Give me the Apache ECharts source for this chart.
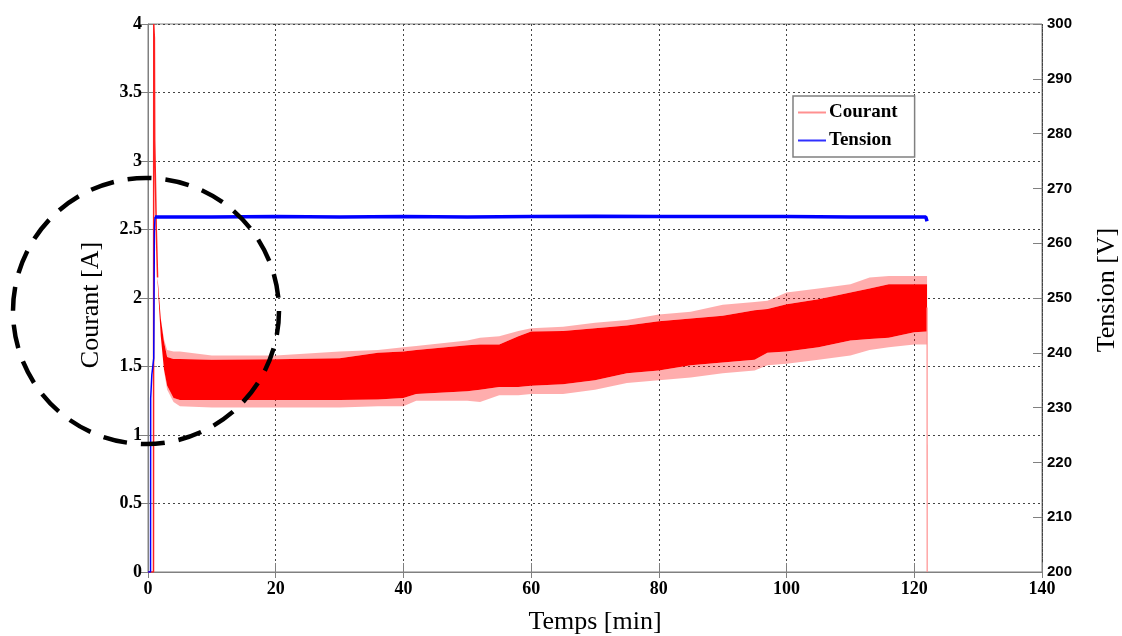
<!DOCTYPE html>
<html><head><meta charset="utf-8">
<script src="https://cdn.jsdelivr.net/npm/echarts@6/dist/echarts.min.js"></script>
<style>html,body{margin:0;padding:0;background:#fff}#c{width:1122px;height:636px}</style>
</head><body><div id="c"></div>
<script>
// ---- axis ticks ----
const timeTicks = [0, 20, 40, 60, 80, 100, 120, 140];
const courantTicks = [0, 0.5, 1, 1.5, 2, 2.5, 3, 3.5, 4];
const tensionTicks = [200, 210, 220, 230, 240, 250, 260, 270, 280, 290, 300];

// ---- Courant: start transient and final drop (A) ----
const courantStartT = [0, 0.86, 0.9, 1.0, 1.05, 1.15, 1.3, 1.5];
const courantStartA = [0, 0, 4.0, 3.9, 3.15, 2.9, 2.5, 2.15];
const courantEndT = [122.0, 122.02];
const courantEndA = [1.93, 0];

// ---- Courant: noisy band envelopes (A) ----
const bandT        = [1.5, 2, 2.5, 3, 4, 5, 10, 20, 30, 36, 40, 42, 50, 52, 55, 58, 60, 65, 70, 75, 80, 85, 90, 95, 97, 100, 105, 110, 113, 116, 120, 122];
const bandInnerLow = [2.12, 1.72, 1.48, 1.36, 1.27, 1.255, 1.255, 1.255, 1.255, 1.26, 1.27, 1.30, 1.32, 1.33, 1.35, 1.35, 1.36, 1.37, 1.40, 1.45, 1.47, 1.51, 1.53, 1.55, 1.60, 1.61, 1.64, 1.69, 1.70, 1.71, 1.75, 1.755];
const bandInnerHigh= [2.15, 1.85, 1.68, 1.57, 1.555, 1.555, 1.55, 1.553, 1.56, 1.60, 1.61, 1.62, 1.655, 1.66, 1.66, 1.72, 1.755, 1.76, 1.78, 1.80, 1.83, 1.85, 1.87, 1.91, 1.92, 1.955, 1.99, 2.04, 2.07, 2.10, 2.10, 2.10];
const bandOuterLow = [2.12, 1.72, 1.47, 1.33, 1.24, 1.21, 1.20, 1.20, 1.20, 1.21, 1.21, 1.25, 1.25, 1.24, 1.29, 1.29, 1.30, 1.30, 1.33, 1.38, 1.40, 1.42, 1.45, 1.47, 1.51, 1.52, 1.55, 1.58, 1.62, 1.64, 1.66, 1.66];
const bandOuterHigh= [2.15, 1.85, 1.70, 1.62, 1.61, 1.61, 1.58, 1.58, 1.61, 1.62, 1.64, 1.65, 1.69, 1.71, 1.72, 1.76, 1.78, 1.79, 1.82, 1.84, 1.88, 1.90, 1.95, 1.97, 1.98, 2.04, 2.07, 2.10, 2.15, 2.16, 2.16, 2.16];

// ---- Tension (V) ----
const tensionStartT = [0, 0.4, 0.42, 0.55, 0.6, 0.9, 1.0, 1.1];
const tensionStartV = [200, 200, 231.7, 231.7, 236, 239, 262, 264.8];
const tensionT = [1.1, 10, 20, 30, 40, 50, 60, 70, 80, 90, 100, 110, 121.8, 122.0];
const tensionV = [264.8, 264.8, 264.85, 264.8, 264.85, 264.8, 264.85, 264.9, 264.85, 264.85, 264.85, 264.8, 264.8, 264.0];

const zip = (a, b) => a.map((v, i) => [v, b[i]]);

const serif = "'Liberation Serif','Times New Roman',serif";
const sans = "'Liberation Sans',Arial,sans-serif";
const gridLine = { show: true, lineStyle: { color: '#444', type: [2, 3], width: 1 } };
const light = 'rgba(255,0,0,0.32)';

// band between two envelopes, drawn as a polygon through the axis scales
function bandSeries(lo, hi, color, z) {
  return {
    type: 'custom', silent: true, z: z, clip: true,
    data: [[bandT[0], lo[0]]],
    renderItem: function (params, api) {
      const pts = [];
      for (let i = 0; i < bandT.length; i++) pts.push(api.coord([bandT[i], hi[i]]));
      for (let i = bandT.length - 1; i >= 0; i--) pts.push(api.coord([bandT[i], lo[i]]));
      return { type: 'polygon', shape: { points: pts }, style: { fill: color, stroke: null } };
    }
  };
}

const chart = echarts.init(document.getElementById('c'), null, { renderer: 'canvas' });
chart.setOption({
  animation: false,
  backgroundColor: '#fff',
  grid: [
    { left: 148, right: 80, top: 24, bottom: 64, outerBoundsMode: 'none', containLabel: false, show: true, borderColor: '#808080', borderWidth: 1, backgroundColor: 'transparent' },
    { left: 148, right: 80, top: 24, bottom: 64, outerBoundsMode: 'none', containLabel: false, show: false }
  ],
  legend: {
    left: 793, top: 96, orient: 'vertical',
    backgroundColor: '#fff', borderColor: '#808080', borderWidth: 1.5,
    padding: [7, 17, 7, 5], itemGap: 9,
    itemWidth: 28, itemHeight: 2, icon: 'rect',
    textStyle: { fontFamily: serif, fontWeight: 'bold', fontSize: 19, color: '#000', padding: [0, 0, 0, -2] },
    data: [
      { name: 'Courant', itemStyle: { color: '#ff9090' } },
      { name: 'Tension', itemStyle: { color: '#3030ff' } }
    ]
  },
  xAxis: [{
    type: 'value', gridIndex: 0, min: timeTicks[0], max: timeTicks[timeTicks.length - 1], interval: 20,
    name: 'Temps [min]', nameLocation: 'middle', nameGap: 37,
    nameTextStyle: { fontFamily: serif, fontSize: 26, color: '#000' },
    axisLine: { show: true, lineStyle: { color: '#808080' } },
    axisTick: { show: true, inside: true, length: 9, lineStyle: { color: '#808080' } },
    axisLabel: { fontFamily: serif, fontWeight: 'bold', fontSize: 18, color: '#000', margin: 8 },
    splitLine: gridLine
  }, {
    type: 'value', gridIndex: 1, position: 'top', min: 0, max: 140, interval: 20,
    axisLine: { show: false },
    axisTick: { show: true, inside: true, length: 6, lineStyle: { color: '#808080' } },
    axisLabel: { show: false }, splitLine: { show: false }
  }],
  yAxis: [{
    type: 'value', gridIndex: 0, min: courantTicks[0], max: courantTicks[courantTicks.length - 1], interval: 0.5,
    name: 'Courant [A]', nameLocation: 'middle', nameGap: 44, nameRotate: 90,
    nameTextStyle: { fontFamily: serif, fontSize: 26, color: '#000', padding: [0, 0, 0, -14] },
    axisLine: { show: true, lineStyle: { color: '#808080' } },
    axisTick: { show: true, inside: true, length: 9, lineStyle: { color: '#808080' } },
    axisLabel: { fontFamily: serif, fontWeight: 'bold', fontSize: 18, color: '#000', margin: 6 },
    splitLine: gridLine
  }, {
    type: 'value', gridIndex: 0, position: 'right', min: tensionTicks[0], max: tensionTicks[tensionTicks.length - 1], interval: 10,
    name: 'Tension [V]', nameLocation: 'middle', nameGap: 52, nameRotate: 90,
    nameTextStyle: { fontFamily: serif, fontSize: 26, color: '#000', padding: [0, 0, 0, 16] },
    axisLine: { show: true, lineStyle: { color: '#444', type: [1, 1] } },
    axisTick: { show: true, inside: true, length: 9, lineStyle: { color: '#808080' } },
    axisLabel: { fontFamily: sans, fontWeight: 'bold', fontSize: 15, color: '#000', margin: 5 },
    splitLine: { show: false }
  }, {
    type: 'value', gridIndex: 1, position: 'right', min: 0, max: 4, interval: 0.5,
    axisLine: { show: false },
    axisTick: { show: true, inside: true, length: 9, lineStyle: { color: '#808080' } },
    axisLabel: { show: false }, splitLine: { show: false }
  }],
  series: [
    bandSeries(bandOuterLow, bandInnerLow, light, 2),
    bandSeries(bandInnerHigh, bandOuterHigh, light, 2),
    bandSeries(bandInnerLow, bandInnerHigh, '#ff0000', 2),
    { name: 'Courant', type: 'line', data: zip(courantStartT, courantStartA), showSymbol: false, lineStyle: { width: 1.5, color: '#ff2020' }, itemStyle: { color: '#ff9090' }, z: 3 },
    { name: 'Courant', type: 'line', data: zip(courantEndT, courantEndA), showSymbol: false, lineStyle: { width: 1.2, color: '#ff8f8f' }, itemStyle: { color: '#ff9090' }, z: 3 },
    { name: 'Tension', type: 'line', yAxisIndex: 1, data: zip(tensionStartT, tensionStartV), showSymbol: false, lineStyle: { width: 1.5, color: '#0000ff' }, itemStyle: { color: '#3030ff' }, z: 4 },
    { name: 'Tension', type: 'line', yAxisIndex: 1, data: zip(tensionT, tensionV), showSymbol: false, lineStyle: { width: 3.5, color: '#0000ff' }, itemStyle: { color: '#3030ff' }, z: 4 }
  ],
  graphic: [{
    type: 'circle', z: 100,
    shape: { cx: 146, cy: 311, r: 133 },
    style: { fill: 'none', stroke: '#000', lineWidth: 4.5, lineDash: [24, 14] }
  }]
});
</script></body></html>
